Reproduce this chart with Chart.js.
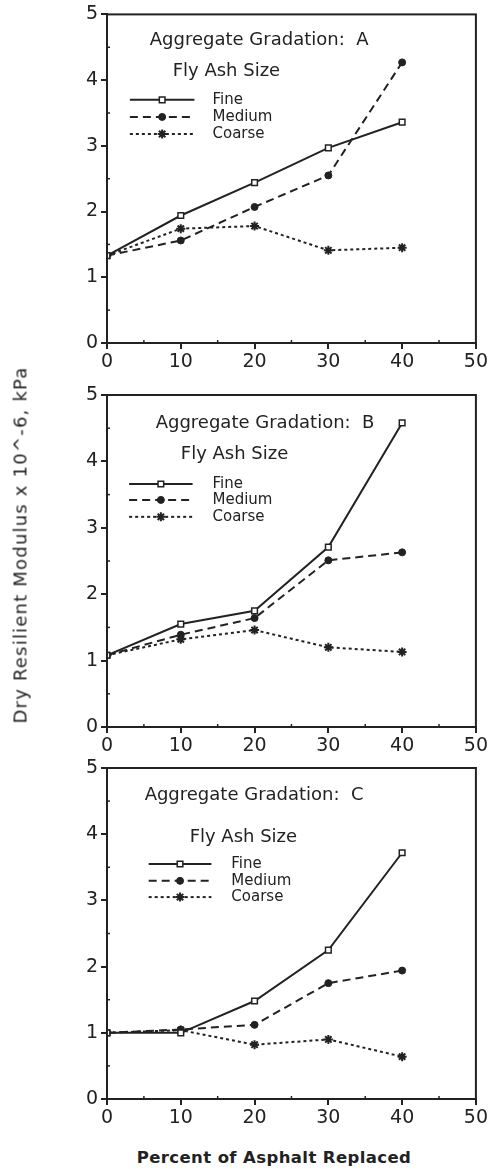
<!DOCTYPE html>
<html lang="en">
<head>
<meta charset="UTF-8">
<title>Dry Resilient Modulus</title>
<script src="https://cdn.jsdelivr.net/npm/chart.js"></script>
<style>
    body { margin: 0; width: 490px; height: 1169px; position: relative; background: #fff; font-family: "DejaVu Sans"; color: #222; overflow: hidden; }
    canvas { position: absolute; left: 0; }
    #ytitle { position: absolute; left: 20px; top: 545px; transform: translate(-50%, -50%) rotate(-90deg); white-space: nowrap; font-size: 18px; letter-spacing: 1.2px; }
    #xtitle { position: absolute; left: 274px; top: 1157px; transform: translate(-50%, -50%); white-space: nowrap; font-size: 16.5px; font-weight: bold; letter-spacing: 0.4px; }
</style>
</head>
<body>
<canvas id="chartA" width="490" height="380" style="top:0px"></canvas>
<canvas id="chartB" width="490" height="380" style="top:380px"></canvas>
<canvas id="chartC" width="490" height="380" style="top:750px"></canvas>
<div id="ytitle">Dry Resilient Modulus x 10^-6, kPa</div>
<div id="xtitle">Percent of Asphalt Replaced</div>

<script>
    // percent of asphalt replaced
    const percent = [0, 10, 20, 30, 40];
    const seriesNames = ['Fine', 'Medium', 'Coarse'];

    // gradation A
    const fineA = [1.33, 1.94, 2.44, 2.97, 3.36];
    const mediumA = [1.33, 1.56, 2.07, 2.55, 4.27];
    const coarseA = [1.33, 1.74, 1.78, 1.41, 1.45];

    // gradation B
    const fineB = [1.08, 1.55, 1.75, 2.71, 4.58];
    const mediumB = [1.08, 1.39, 1.64, 2.51, 2.63];
    const coarseB = [1.08, 1.32, 1.46, 1.20, 1.13];

    // gradation C
    const fineC = [1.00, 1.00, 1.48, 2.25, 3.72];
    const mediumC = [1.00, 1.05, 1.12, 1.75, 1.94];
    const coarseC = [1.00, 1.04, 0.82, 0.90, 0.64];

    const ink = '#222';
    const styles = [
        { borderDash: [], pointStyle: 'rect', pointRadius: 4, pointBackgroundColor: '#fff', pointBorderWidth: 1.5 },
        { borderDash: [8, 5], pointStyle: 'circle', pointRadius: 3.5, pointBackgroundColor: ink, pointBorderWidth: 1 },
        { borderDash: [3, 3], pointStyle: 'star', pointRadius: 4.5, pointBackgroundColor: ink, pointBorderWidth: 2 },
    ];

    // box, minor ticks, inner title + legend
    const panelPlugin = {
        id: 'panelText',
        afterDraw(chart, args, opts) {
            const ctx = chart.ctx;
            const a = chart.chartArea;
            const w = a.right - a.left, h = a.bottom - a.top;
            ctx.save();
            ctx.strokeStyle = ink;
            ctx.lineWidth = 2;
            ctx.setLineDash([]);
            ctx.strokeRect(a.left, a.top, w, h);

            // minor ticks (inside)
            ctx.lineWidth = 1.5;
            chart.scales.y.ticks.forEach(t => {
                if (!Number.isInteger(t.value)) {
                    const py = chart.scales.y.getPixelForValue(t.value);
                    ctx.beginPath(); ctx.moveTo(a.left, py); ctx.lineTo(a.left + 3, py); ctx.stroke();
                }
            });
            chart.scales.x.ticks.forEach(t => {
                if (t.value % 10 !== 0) {
                    const px = chart.scales.x.getPixelForValue(t.value);
                    ctx.beginPath(); ctx.moveTo(px, a.bottom); ctx.lineTo(px, a.bottom - 3); ctx.stroke();
                }
            });

            ctx.fillStyle = ink;
            ctx.textBaseline = 'middle';
            ctx.textAlign = 'left';
            ctx.font = '18px "DejaVu Sans"';
            ctx.fillText(opts.title, a.left + opts.titlePos[0] * w, a.top + opts.titlePos[1] * h);
            ctx.fillText('Fly Ash Size', a.left + opts.subPos[0] * w, a.top + opts.subPos[1] * h);

            ctx.font = '15px "DejaVu Sans"';
            const x0 = a.left + opts.legendX[0] * w;
            const x1 = a.left + opts.legendX[1] * w;
            const tx = a.left + opts.legendX[2] * w;
            chart.data.datasets.forEach((ds, i) => {
                const y = a.top + opts.rows[i] * h;
                ctx.strokeStyle = ink;
                ctx.lineWidth = 2;
                ctx.setLineDash(ds.borderDash);
                ctx.beginPath(); ctx.moveTo(x0, y); ctx.lineTo(x1, y); ctx.stroke();
                ctx.setLineDash([]);
                ctx.fillStyle = ds.pointBackgroundColor;
                ctx.lineWidth = ds.pointBorderWidth;
                Chart.helpers.drawPoint(ctx, { pointStyle: ds.pointStyle, radius: ds.pointRadius, borderWidth: ds.pointBorderWidth, rotation: 0 }, (x0 + x1) / 2, y);
                ctx.fillStyle = ink;
                ctx.fillText(ds.label, tx, y);
            });
            ctx.restore();
        }
    };

    function makePanel(id, series, padTop, xHeight, text) {
        const datasets = series.map((vals, i) => Object.assign({
            label: seriesNames[i],
            data: percent.map((p, j) => ({ x: p, y: vals[j] })),
            borderColor: ink,
            pointBorderColor: ink,
            borderWidth: 2,
            tension: 0,
        }, styles[i]));

        const tickFont = { family: 'DejaVu Sans', size: 19 };
        new Chart(document.getElementById(id), {
            type: 'line',
            data: { datasets },
            plugins: [panelPlugin],
            options: {
                responsive: false,
                animation: false,
                layout: { padding: { left: 0, right: 13, top: padTop, bottom: 0 } },
                plugins: { legend: { display: false }, tooltip: { enabled: false }, panelText: text },
                scales: {
                    x: {
                        type: 'linear', min: 0, max: 50,
                        afterFit: (s) => { s.height = xHeight; },
                        ticks: {
                            stepSize: 5, color: ink, font: tickFont, maxRotation: 0, padding: 2,
                            callback: (v) => v % 10 === 0 ? v : ''
                        },
                        grid: {
                            drawOnChartArea: false, tickLength: 6, lineWidth: 2,
                            color: (c) => (c.tick && c.tick.value % 10 === 0) ? ink : 'rgba(0,0,0,0)'
                        },
                        border: { color: ink, width: 2 },
                    },
                    y: {
                        min: 0, max: 5,
                        afterFit: (s) => { s.width = 107; },
                        ticks: {
                            stepSize: 0.5, color: ink, font: tickFont, padding: 3,
                            callback: (v) => Number.isInteger(v) ? v : ''
                        },
                        grid: {
                            drawOnChartArea: false, tickLength: 6, lineWidth: 2,
                            color: (c) => (c.tick && Number.isInteger(c.tick.value)) ? ink : 'rgba(0,0,0,0)'
                        },
                        border: { color: ink, width: 2 },
                    }
                }
            }
        });
    }

    makePanel('chartA', [fineA, mediumA, coarseA], 13, 37, {
        title: 'Aggregate Gradation:  A', titlePos: [0.116, 0.079], subPos: [0.178, 0.173],
        legendX: [0.062, 0.237, 0.286], rows: [0.26, 0.312, 0.364]
    });
    makePanel('chartB', [fineB, mediumB, coarseB], 15, 33, {
        title: 'Aggregate Gradation:  B', titlePos: [0.132, 0.084], subPos: [0.2, 0.18],
        legendX: [0.06, 0.232, 0.286], rows: [0.268, 0.316, 0.367]
    });
    makePanel('chartC', [fineC, mediumC, coarseC], 18, 31, {
        title: 'Aggregate Gradation:  C', titlePos: [0.102, 0.082], subPos: [0.224, 0.208],
        legendX: [0.113, 0.283, 0.337], rows: [0.29, 0.341, 0.39]
    });
</script>
</body>
</html>
